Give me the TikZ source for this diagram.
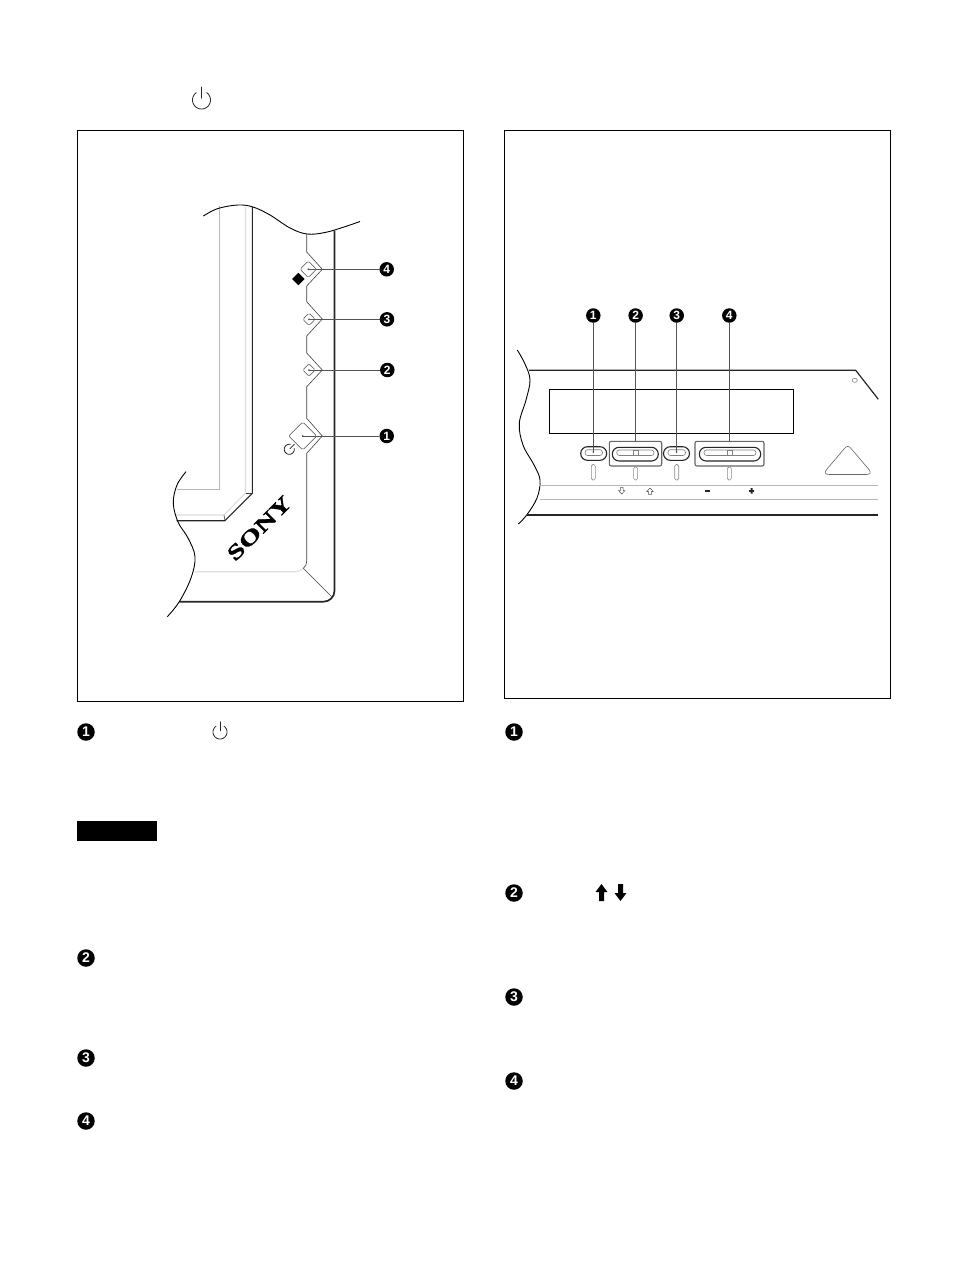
\documentclass[tikz,border=0pt]{standalone}
\usepackage{fontspec}
\setmainfont{Liberation Sans}
\newfontfamily\serifbold{Liberation Serif Bold}[FakeBold=1.2]
\usetikzlibrary{calc}
\definecolor{lead}{gray}{0.33}
\definecolor{softg}{gray}{0.72}
\tikzset{
  bulletbig/.style={circle,fill=black,text=white,inner sep=0pt,minimum size=17.5pt,font=\bfseries\fontsize{14}{14}\selectfont},
  bulletsmall/.style={circle,fill=black,text=white,inner sep=0pt,minimum size=14.5pt,font=\bfseries\fontsize{12}{12}\selectfont},
  frame/.style={draw=black,line width=0.9pt},
  heavy/.style={draw=black!85,line width=1.7pt},
  thinl/.style={draw=black!75,line width=0.6pt},
  softl/.style={draw=softg,line width=0.8pt},
  softw/.style={draw=black!13,line width=1.1pt},
  leader/.style={draw=lead,line width=0.8pt},
  leaderh/.style={draw=lead,line width=1.2pt},
  sw/.style={draw=black!70,line width=0.6pt,rounded corners=1.5pt},
  slot/.style={draw=black!45,line width=0.6pt,rounded corners=1.6pt},
  pill/.style={draw=black!85,line width=1.1pt,rounded corners=6.8pt},
  pillin/.style={draw=black!50,line width=0.6pt,rounded corners=2.6pt},
  grouprect/.style={draw=black!60,line width=1.1pt,rounded corners=2pt},
  powericon/.pic={
    \draw[line width=0.8pt,draw=black!85,line cap=round] plot[domain=35:325,samples=40,smooth] ({sin(\x)},{-cos(\x)});
    \draw[line width=0.8pt,draw=black!85,line cap=round] (0,-1.45) -- (0,-0.2);
  }
}
\begin{document}
\begin{tikzpicture}[x=1pt,y=-1pt]
\useasboundingbox[fill=white] (0,0) rectangle (954,1274);

% panel frames
\draw[frame] (77.5,130.5) rectangle (463.5,701.5);
\draw[frame] (504.5,130.5) rectangle (890.5,698.5);

% heading icon and callouts in the text columns
\pic[scale=9] at (201.5,100) {powericon};
\pic[scale=7] at (220,732) {powericon};
\fill[black] (77,821) rectangle (157,841);
\fill[black] (601.5,884) -- (607.5,892) -- (604,892) -- (604,901) -- (599,901) -- (599,892) -- (595.5,892) -- cycle;
\fill[black] (620.5,901) -- (626.5,893) -- (623,893) -- (623,884) -- (618,884) -- (618,893) -- (614.5,893) -- cycle;

\node[bulletbig] (tl1) at (86,732) {1};
\node[bulletbig] (tl2) at (86,958) {2};
\node[bulletbig] (tl3) at (86,1058) {3};
\node[bulletbig] (tl4) at (86,1121) {4};
\node[bulletbig] (tr1) at (514,732) {1};
\node[bulletbig] (tr2) at (514,893) {2};
\node[bulletbig] (tr3) at (514,997) {3};
\node[bulletbig] (tr4) at (514,1081) {4};

% ===== left panel: front bezel =====
% screen edges
\draw[softl] (219.3,206) -- (219.3,489) -- (176.7,489);
\draw[softw] (245.5,207) -- (245.5,493) -- (224,515) -- (175.7,515);
\draw[thinl] (246,493) -- (252.3,493);
\draw[thinl] (224,515) -- (225,520.7);
\draw[heavy,line width=1.1pt] (252.3,207) -- (252.3,493.3) -- (225,520.7) -- (176.7,520.7);
% top break
\draw[draw=black,line width=0.9pt] plot[smooth,tension=.6] coordinates {(203.3,216) (218,208.5) (238,205) (253,207) (270,215) (290,228) (307,234) (325,232.5) (344,227) (360,221.5)};
% outer edge
\draw[heavy,rounded corners=11pt] (334.5,230.7) -- (334.5,601.7) -- (179.3,601.7);
% inner bevel with the button bays
\draw[thinl,line join=round] (306.7,234) -- (306.7,252) -- (322.3,269.3) -- (306.7,286) -- (306.7,301.7) -- (322.3,319) -- (306.7,336) -- (306.7,353) -- (322.3,370) -- (306.7,386.7) -- (306.7,418.3) -- (322.3,436) -- (306.7,453.3) -- (306.7,560) .. controls (306.7,565) and (305,567) .. (303.3,568.3);
\draw[softw] (303.3,568.3) .. controls (301,570.5) and (298,571.7) .. (295,571.7) -- (195,571.7);
\draw[thinl] (303.3,568.3) -- (331.7,596.7);
% left break
\draw[draw=black,line width=0.9pt] plot[smooth,tension=.6] coordinates {(186,471.7) (177,485) (173.3,503) (178,522) (188,538) (195,556.7) (191,578) (179.3,601.7) (167.3,616.7)};
% buttons
\draw[sw] (308.3,261) -- (316.5,269.3) -- (308.3,277.5) -- (300,269.3) -- cycle;
\draw[sw] (309,313) -- (315.2,319.3) -- (309,325.5) -- (302.8,319.3) -- cycle;
\draw[sw] (309,363.7) -- (315.2,370) -- (309,376.3) -- (302.8,370) -- cycle;
\draw[sw] (302.7,422) -- (316.7,436) -- (302.7,450) -- (288.7,436) -- cycle;
\fill[black] (298.3,272.8) -- (304.5,279) -- (298.3,285.2) -- (292.1,279) -- cycle;
\pic[scale=5,rotate=-45] at (289.3,449.3) {powericon};
\node[rotate=45,font=\serifbold\fontsize{21}{21}\selectfont,xscale=1.4,inner sep=0pt] (sony) at (259.3,528.3) {SONY};
% left callouts
\coordinate (b4) at (308.3,269.3);
\coordinate (b3) at (309,319.3);
\coordinate (b2) at (309,370);
\coordinate (b1) at (302.7,436);
\node[bulletsmall] (l4) at (386.7,269.3) {4};
\node[bulletsmall] (l3) at (387,319.3) {3};
\node[bulletsmall] (l2) at (387.3,370) {2};
\node[bulletsmall] (l1) at (386.7,436) {1};
\fill[lead] (b4) circle (1pt) (b3) circle (1pt) (b2) circle (1pt) (b1) circle (1pt);
\draw[leader] (l4) -- (b4);
\draw[leaderh] (l3) -- (b3);
\draw[leader] (l2) -- (b2);
\draw[leader] (l1) -- (b1);

% ===== right panel: control strip =====
\draw[draw=black,line width=0.9pt] plot[smooth,tension=.6] coordinates {(517.3,350) (525,364) (530,380) (526,400) (519.3,423.3) (523,445) (534,465) (540,480) (537,498) (526.7,515) (518.3,524)};
\draw[heavy,line width=1.2pt,line join=round] (529,370.3) -- (855.7,370.3) -- (878.3,399.3);
\draw[draw=black!55,line width=0.5pt] (854.7,380.3) ellipse (2.6 and 2);
\draw[draw=black,line width=0.9pt] (549.3,389.3) rectangle (793.3,433.3);
\draw[softl] (539.3,485) -- (878,485);
\draw[softl] (540,499) -- (878,499);
\draw[heavy,line width=1.3pt] (526.7,515) -- (878,515);

% buttons
\draw[pill] (580.7,446.7) rectangle (606.7,460.3);
\draw[pillin] (585,455.5) rectangle (602.5,449.7);
\draw[pill] (663.5,446.7) rectangle (689.5,460.3);
\draw[pillin] (668,455.5) rectangle (685.5,449.7);
\draw[grouprect] (609.3,441.3) rectangle (661.7,466);
\draw[pill] (612.3,447.3) rectangle (658.3,461);
\draw[pillin] (616.7,450) rectangle (654,455.5);
\draw[pillin,rounded corners=0pt] (633.3,450) rectangle (638.3,455.5);
\draw[grouprect] (695,441.3) rectangle (764,466);
\draw[pill] (699.3,447.3) rectangle (760.7,461);
\draw[pillin] (704,450) rectangle (756,455.5);
\draw[pillin,rounded corners=0pt] (727.3,450) rectangle (732.3,455.5);
% slots
\draw[slot] (591.3,464.5) rectangle (595.3,480);
\draw[slot] (633.6,467) rectangle (637.6,480);
\draw[slot] (674.7,464.5) rectangle (678.7,480);
\draw[slot] (727.3,467) rectangle (731.3,480);
% small legends
\draw[draw=black!70,line width=0.5pt,line join=round] (621.7,494) -- (625,490.5) -- (623,490.5) -- (623,487.5) -- (620.4,487.5) -- (620.4,490.5) -- (618.4,490.5) -- cycle;
\draw[draw=black!70,line width=0.5pt,line join=round] (650,488) -- (653.3,491.5) -- (651.3,491.5) -- (651.3,494.5) -- (648.7,494.5) -- (648.7,491.5) -- (646.7,491.5) -- cycle;
\fill[black!85] (704.8,490) rectangle (710,491.6);
\fill[black!85] (749,490) rectangle (754.2,491.8) (750.7,488.2) rectangle (752.5,493.6);
% triangle
\draw[draw=black!60,line width=0.6pt] (844,449) .. controls (846.5,445.5) and (849,445.5) .. (851.5,449) -- (868.5,469) .. controls (872,473) and (870,474.5) .. (866,474.5) -- (829.5,474.5) .. controls (825.5,474.5) and (823.5,473) .. (827,469) -- cycle;
% right callouts
\node[bulletsmall] (r1) at (593.3,315.5) {1};
\node[bulletsmall] (r2) at (635.6,315.5) {2};
\node[bulletsmall] (r3) at (676.7,315.5) {3};
\node[bulletsmall] (r4) at (729.3,315.5) {4};
\coordinate (rb1) at (593.3,452);
\coordinate (rb2) at (635.6,441.3);
\coordinate (rb3) at (676.7,452);
\coordinate (rb4) at (729.3,441.3);
\fill[lead] (rb1) circle (1pt) (rb3) circle (1pt);
\draw[leaderh] (r1) -- (rb1);
\draw[leader] (r2) -- (rb2);
\draw[leaderh] (r3) -- (rb3);
\draw[leaderh] (r4) -- (rb4);
\end{tikzpicture}
\end{document}
